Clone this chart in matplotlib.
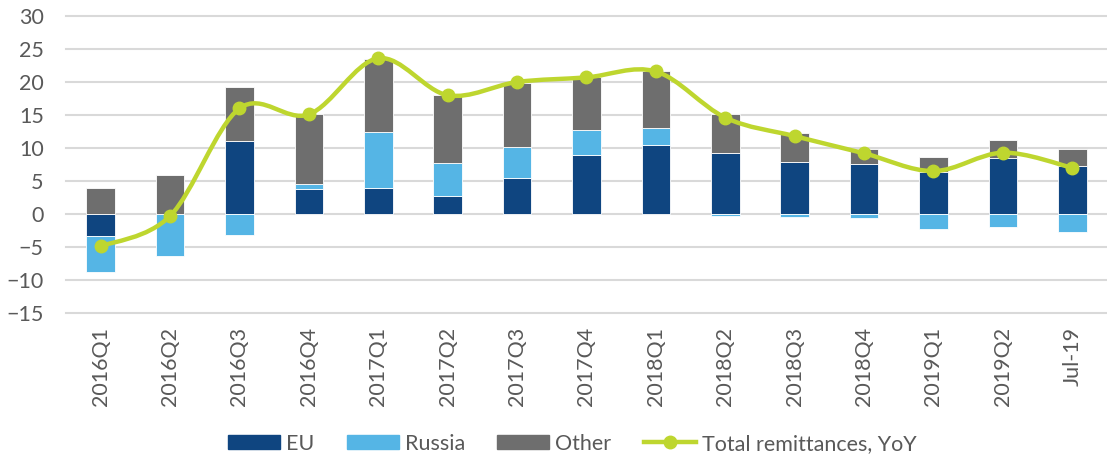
import matplotlib
matplotlib.use("Agg")
import matplotlib.pyplot as plt
from matplotlib.path import Path
from matplotlib.patches import PathPatch, Patch
from matplotlib.lines import Line2D
import numpy as np

plt.rcParams['font.family'] = ['Lato', 'DejaVu Sans']

quarters = ['2016Q1', '2016Q2', '2016Q3', '2016Q4', '2017Q1', '2017Q2', '2017Q3',
            '2017Q4', '2018Q1', '2018Q2', '2018Q3', '2018Q4', '2019Q1', '2019Q2', 'Jul-19']
eu = [-3.4, 0.0, 11.0, 3.8, 3.9, 2.7, 5.4, 8.9, 10.4, 9.2, 7.9, 7.6, 6.3, 8.5, 7.3]
russia = [-5.4, -6.3, -3.2, 0.7, 8.6, 5.0, 4.7, 3.8, 2.6, -0.3, -0.4, -0.6, -2.2, -1.9, -2.7]
other = [3.9, 5.9, 8.25, 10.65, 11.0, 10.3, 9.7, 8.0, 8.6, 5.9, 4.3, 2.3, 2.4, 2.7, 2.5]
total_yoy = [-4.9, -0.3, 16.0, 15.1, 23.6, 18.0, 20.0, 20.7, 21.6, 14.6, 11.8, 9.2, 6.5, 9.3, 7.0]

c_eu = '#0F4580'
c_ru = '#55B5E5'
c_other = '#6E6E6E'
c_line = '#BED62F'
c_text = '#595959'
fs = 15.5


def smooth_path(xs, ys):
    # Excel-like smoothed line: cubic Bezier through the points (Catmull-Rom)
    pts = np.column_stack([xs, ys])
    n = len(pts)
    verts = [pts[0]]
    codes = [Path.MOVETO]
    for i in range(n - 1):
        p0 = pts[max(i - 1, 0)]
        p1 = pts[i]
        p2 = pts[i + 1]
        p3 = pts[min(i + 2, n - 1)]
        c1 = p1 + (p2 - p0) / 6.0
        c2 = p2 - (p3 - p1) / 6.0
        verts += [c1, c2, p2]
        codes += [Path.CURVE4] * 3
    return Path(verts, codes)


def main():
    fig = plt.figure(figsize=(11.07, 4.58), dpi=100)
    ax = fig.add_axes([0.0596, 0.3166, 0.9404, 0.6484])

    x = np.arange(len(quarters))
    w = 0.41
    pos_base = np.zeros(len(x))
    neg_base = np.zeros(len(x))
    for vals, col in [(eu, c_eu), (russia, c_ru), (other, c_other)]:
        v = np.array(vals)
        base = np.where(v >= 0, pos_base, neg_base)
        ax.bar(x, v, w, bottom=base, color=col, zorder=3, linewidth=0.6, edgecolor='white')
        pos_base = pos_base + np.where(v >= 0, v, 0)
        neg_base = neg_base + np.where(v < 0, v, 0)

    ax.add_patch(PathPatch(smooth_path(x, total_yoy), facecolor='none', edgecolor=c_line,
                           lw=3.2, zorder=4, capstyle='round'))
    ax.plot(x, total_yoy, 'o', color=c_line, markersize=9, zorder=5)

    ax.set_xlim(-0.5, 14.5)
    ax.set_ylim(-15, 30)
    ax.set_yticks(range(-15, 31, 5))
    ax.yaxis.grid(True, color='#D9D9D9', lw=1.5, zorder=0)
    for gl in ax.get_ygridlines():
        gl.set_clip_on(False)
    ax.set_axisbelow(True)
    for s in ax.spines.values():
        s.set_visible(False)
    ax.set_xticks(x)
    ax.set_xticklabels(quarters, rotation=90, fontsize=fs, color=c_text)
    ax.tick_params(axis='both', length=0, labelsize=fs, colors=c_text)
    ax.tick_params(axis='x', pad=10)
    ax.tick_params(axis='y', pad=16)

    handles = [Patch(color=c_eu), Patch(color=c_ru), Patch(color=c_other),
               Line2D([0], [0], color=c_line, lw=3.2, marker='o', markersize=9)]
    labels = ['EU', 'Russia', 'Other', 'Total remittances, YoY']
    fig.legend(handles, labels, loc='center', bbox_to_anchor=(0.517, 0.031), ncol=4,
               frameon=False, fontsize=fs, labelcolor=c_text, handlelength=2.42,
               handleheight=0.65, columnspacing=1.5, handletextpad=0.28,
               borderaxespad=0, borderpad=0)

    fig.savefig('out.png', dpi=100)


if __name__ == "__main__":
    main()
